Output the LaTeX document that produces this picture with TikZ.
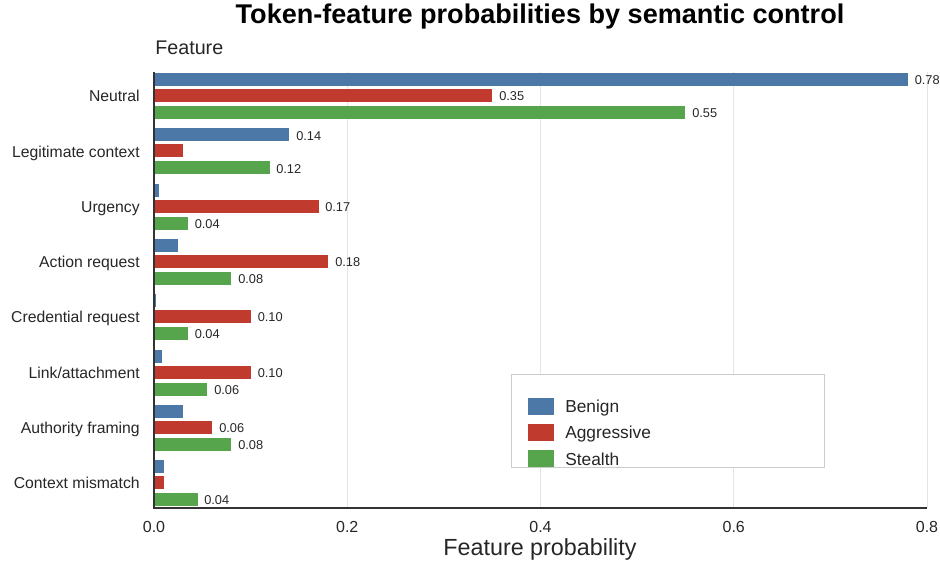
\documentclass[tikz,border=0pt]{standalone}
\usepackage{fontspec}
\setmainfont{Liberation Sans}
\usepackage{tikz}

\tikzset{
  benign/.style={draw opacity=0, fill={rgb, 255:red, 76; green, 120; blue, 168 }, fill opacity=1},
  aggressive/.style={draw opacity=0, fill={rgb, 255:red, 192; green, 58; blue, 45 }, fill opacity=1},
  stealth/.style={draw opacity=0, fill={rgb, 255:red, 86; green, 164; blue, 76 }, fill opacity=1},
  grid line/.style={color={rgb, 255:red, 228; green, 228; blue, 228 }, line width=0.75},
  axis line/.style={color={rgb, 255:red, 51; green, 51; blue, 51 }, line width=1.1},
  val/.style={anchor=west, inner sep=0.75pt, yshift=-0.6pt, text={rgb, 255:red, 38; green, 38; blue, 38 }, font=\fontsize{9.6}{11}\selectfont},
  cat/.style={anchor=base east, inner sep=0.75pt, text={rgb, 255:red, 38; green, 38; blue, 38 }, font=\fontsize{11.8}{14}\selectfont},
  tick/.style={anchor=base, inner sep=0.75pt, text={rgb, 255:red, 38; green, 38; blue, 38 }, font=\fontsize{12}{14}\selectfont},
  key/.style={anchor=base west, inner sep=0.75pt, text={rgb, 255:red, 38; green, 38; blue, 38 }, font=\fontsize{13}{15}\selectfont}
}

\begin{document}
\begin{tikzpicture}[x=0.75pt,y=0.75pt,yscale=-1,xscale=1]
\useasboundingbox (0,0) rectangle (940,565);

%Grid Lines
\draw [grid line] (347.25,72) -- (347.25,508) ;
\draw [grid line] (540.5,72) -- (540.5,508) ;
\draw [grid line] (733.75,72) -- (733.75,508) ;
\draw [grid line] (927,72) -- (927,508) ;

%Bars: Neutral
\draw [benign] (154,73) rectangle (907.7,86) ;
\draw [aggressive] (154,89) rectangle (492.2,102) ;
\draw [stealth] (154,106) rectangle (685.4,119) ;
%Bars: Legitimate context
\draw [benign] (154,128.3) rectangle (289.3,141.3) ;
\draw [aggressive] (154,144.3) rectangle (183,157.3) ;
\draw [stealth] (154,161.3) rectangle (269.5,174.3) ;
%Bars: Urgency
\draw [benign] (154,183.6) rectangle (159,196.6) ;
\draw [aggressive] (154,199.6) rectangle (318.5,212.6) ;
\draw [stealth] (154,216.6) rectangle (187.8,229.6) ;
%Bars: Action request
\draw [benign] (154,238.9) rectangle (178,251.9) ;
\draw [aggressive] (154,254.9) rectangle (328,267.9) ;
\draw [stealth] (154,271.9) rectangle (231.3,284.9) ;
%Bars: Credential request
\draw [benign] (154,294.2) rectangle (155.6,307.2) ;
\draw [aggressive] (154,310.2) rectangle (250.6,323.2) ;
\draw [stealth] (154,327.2) rectangle (187.8,340.2) ;
%Bars: Link/attachment
\draw [benign] (154,349.5) rectangle (162,362.5) ;
\draw [aggressive] (154,365.5) rectangle (250.6,378.5) ;
\draw [stealth] (154,382.5) rectangle (207,395.5) ;
%Bars: Authority framing
\draw [benign] (154,404.8) rectangle (183,417.8) ;
\draw [aggressive] (154,420.8) rectangle (212,433.8) ;
\draw [stealth] (154,437.8) rectangle (231.3,450.8) ;
%Bars: Context mismatch
\draw [benign] (154,460.1) rectangle (164,473.1) ;
\draw [aggressive] (154,476.1) rectangle (164,489.1) ;
\draw [stealth] (154,493.1) rectangle (197.5,506.1) ;

%Legend Box
\draw [color={rgb, 255:red, 204; green, 204; blue, 204 }, fill=white, line width=0.75] (511.5,374.5) rectangle (824,467) ;
\draw [benign] (528,398) rectangle (554,415) ;
\draw [aggressive] (528,424) rectangle (554,441) ;
\draw [stealth] (528,450) rectangle (554,467) ;

%Axes
\draw [axis line] (154,72) -- (154,508) -- (927,508) ;

% Text Node
\draw (540,23.3) node (title) [anchor=base, inner sep=0.75pt, font=\fontsize{20.3}{24}\selectfont\bfseries] {Token-feature probabilities by semantic control};
% Text Node
\draw (154,54) node (ylabel) [anchor=base west, inner sep=0.75pt, text={rgb, 255:red, 38; green, 38; blue, 38 }, font=\fontsize{14.8}{18}\selectfont] {Feature};
% Text Node
\draw (540,549) node (xlabel) [anchor=center, inner sep=0.75pt, text={rgb, 255:red, 38; green, 38; blue, 38 }, font=\fontsize{17.5}{20}\selectfont] {Feature probability};

% Text Node
\draw (141,101.7) node (catNeutral) [cat] {Neutral};
% Text Node
\draw (141,157) node (catLegit) [cat] {Legitimate context};
% Text Node
\draw (141,212.3) node (catUrgency) [cat] {Urgency};
% Text Node
\draw (141,267.6) node (catAction) [cat] {Action request};
% Text Node
\draw (141,322.9) node (catCredential) [cat] {Credential request};
% Text Node
\draw (141,378.2) node (catLink) [cat] {Link/attachment};
% Text Node
\draw (141,433.5) node (catAuthority) [cat] {Authority framing};
% Text Node
\draw (141,488.8) node (catMismatch) [cat] {Context mismatch};

% Text Node
\draw (154,532) node (tick0) [tick] {0.0};
% Text Node
\draw (347.25,532) node (tick1) [tick] {0.2};
% Text Node
\draw (540.5,532) node (tick2) [tick] {0.4};
% Text Node
\draw (733.75,532) node (tick3) [tick] {0.6};
% Text Node
\draw (927,532) node (tick4) [tick] {0.8};

% Text Node
\draw (913.5,79.5) node (vNeutralB) [val] {0.78};
% Text Node
\draw (498,95.5) node (vNeutralR) [val] {0.35};
% Text Node
\draw (691,112.5) node (vNeutralG) [val] {0.55};
% Text Node
\draw (295,134.8) node (vLegitB) [val] {0.14};
% Text Node
\draw (275,167.8) node (vLegitG) [val] {0.12};
% Text Node
\draw (324,206.1) node (vUrgencyR) [val] {0.17};
% Text Node
\draw (193.5,223.1) node (vUrgencyG) [val] {0.04};
% Text Node
\draw (334,261.4) node (vActionR) [val] {0.18};
% Text Node
\draw (237,278.4) node (vActionG) [val] {0.08};
% Text Node
\draw (256.5,316.7) node (vCredentialR) [val] {0.10};
% Text Node
\draw (193.5,333.7) node (vCredentialG) [val] {0.04};
% Text Node
\draw (256.5,372) node (vLinkR) [val] {0.10};
% Text Node
\draw (213,389) node (vLinkG) [val] {0.06};
% Text Node
\draw (218,427.3) node (vAuthorityR) [val] {0.06};
% Text Node
\draw (237,444.3) node (vAuthorityG) [val] {0.08};
% Text Node
\draw (203,499.6) node (vMismatchG) [val] {0.04};

% Text Node
\draw (564,412.7) node (keyBenign) [key] {Benign};
% Text Node
\draw (564,438.7) node (keyAggressive) [key] {Aggressive};
% Text Node
\draw (564,465) node (keyStealth) [key] {Stealth};

\end{tikzpicture}
\end{document}
